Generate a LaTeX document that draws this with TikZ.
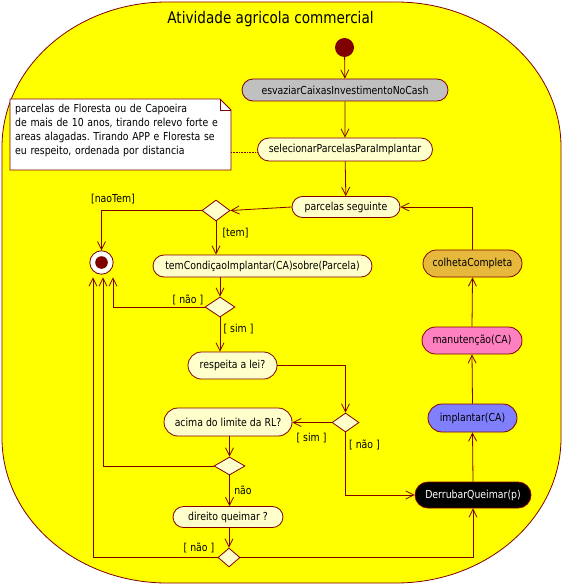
\documentclass[tikz,border=0pt]{standalone}
\usepackage{fontspec}
\setmainfont{DejaVu Sans}[FakeStretch=0.85]
\frenchspacing
\usetikzlibrary{shapes.misc,shapes.geometric,arrows.meta,calc}
\definecolor{dred}{RGB}{128,0,0}
\definecolor{nodey}{RGB}{255,255,204}
\definecolor{goldc}{RGB}{230,184,60}
\definecolor{pinkc}{RGB}{255,128,192}
\definecolor{bluec}{RGB}{128,128,255}
\definecolor{grayc}{RGB}{192,192,192}
\definecolor{areay}{RGB}{255,255,0}
\begin{document}
\begin{tikzpicture}[x=1pt,y=-1pt,
  act/.style={rounded rectangle, draw=dred, fill=nodey, line width=0.8pt, inner sep=0pt,
    font=\fontsize{11}{13}\selectfont},
  dec/.style={diamond, draw=dred, fill=nodey, line width=0.8pt, inner sep=0pt},
  flow/.style={draw=dred, line width=0.8pt, -{Straight Barb[length=8pt,width=8pt]}},
  plain/.style={draw=dred, line width=0.8pt},
  lbl/.style={font=\fontsize{11}{13}\selectfont, inner sep=0pt},
]
\useasboundingbox (0,0) rectangle (563,585);
\fill[white] (0,0) rectangle (563,585);
% activity area
\draw[draw=dred, fill=areay, line width=0.8pt]
  (167,2) -- (396,2) .. controls (487,2) and (561,67) .. (561,147)
  -- (561,438) .. controls (561,518) and (487,583) .. (396,583)
  -- (167,583) .. controls (76,583) and (2,518) .. (2,438)
  -- (2,147) .. controls (2,67) and (76,2) .. (167,2) -- cycle;
\node[font=\fontsize{16}{19}\selectfont, inner sep=0pt] (title) at (270.5,19) {Atividade agricola commercial};

% note
\draw[draw=dred, fill=white, line width=0.8pt]
  (10,99) -- (220,99) -- (231,110) -- (231,170) -- (10,170) -- cycle;
\draw[draw=dred, line width=0.6pt] (220,99) -- (220,110) -- (231,110);
\node[anchor=north west, align=left, inner sep=0pt, text width=215,
  font=\fontsize{11}{14.2}\selectfont] (note) at (15,103.5)
  {parcelas de Floresta ou de Capoeira\\de mais de 10 anos, tirando relevo forte e\\areas alagadas. Tirando APP e Floresta se\\eu respeito, ordenada por distancia};
\coordinate (noteR) at (231,152);

% nodes
\node[circle, fill=dred, minimum size=19, inner sep=0pt] (start) at (344.5,47.5) {};
\node[act, fill=grayc, minimum width=206, minimum height=22] (esv) at (345,90) {esvaziarCaixasInvestimentoNoCash};
\node[act, minimum width=175, minimum height=23] (sel) at (345,149.5) {selecionarParcelasParaImplantar};
\node[act, minimum width=108, minimum height=21] (ps) at (346,207) {parcelas seguinte};
\node[dec, minimum width=28, minimum height=21] (d1) at (216,210.5) {};
\node[circle, draw=dred, fill=white, line width=0.8pt, minimum size=23.4, inner sep=0pt] (fin) at (101.5,262.5) {};
\fill[dred] (fin.center) circle (6.3);
\node[act, minimum width=219, minimum height=22] (tem) at (262.5,266) {temCondiçaoImplantar(CA)sobre(Parcela)};
\node[dec, minimum width=30, minimum height=20] (d2) at (220,307) {};
\node[act, minimum width=89, minimum height=27] (resp) at (232.5,365.5) {respeita a lei?};
\node[dec, minimum width=27, minimum height=19] (d3) at (345.5,422.5) {};
\node[act, minimum width=128, minimum height=28] (acima) at (228,422) {acima do limite da RL?};
\node[dec, minimum width=31, minimum height=18] (d4) at (229.5,466) {};
\node[act, minimum width=110, minimum height=21] (dir) at (228,517) {direito queimar ?};
\node[dec, minimum width=22, minimum height=19] (d5) at (229,557.5) {};
\node[act, fill=black, text=white, minimum width=116, minimum height=26] (der) at (473,495) {DerrubarQueimar(p)};
\node[act, fill=bluec, minimum width=89, minimum height=28] (imp) at (472.5,418) {implantar(CA)};
\node[act, fill=pinkc, minimum width=100, minimum height=27] (man) at (472,340.5) {manutenção(CA)};
\node[act, fill=goldc, minimum width=99, minimum height=27] (col) at (472.5,263.5) {colhetaCompleta};

% connectors
\draw[flow] (start) -- (esv);
\draw[flow] (esv) -- (sel);
\draw[flow] (sel) -- (ps);
\draw[draw=dred, line width=0.6pt, densely dotted] (noteR) -- (noteR -| sel.west);
\draw[flow] (ps.west) -- (d1.east);
\draw[flow] (d1.west) -| (fin.north);
\draw[flow] (d1.south) -- (d1.south |- tem.north);
\draw[flow] (d2.north |- tem.south) -- (d2.north);
\draw[flow] (d2.west) -| ([xshift=11.5pt,yshift=-2.8pt]fin.south);
\draw[flow] (d2.south) -- (d2.south |- resp.north);
\draw[flow] (resp.east) -| (d3.north);
\draw[flow] (d3.west) -- (d3.west -| acima.east);
\draw[flow] (d3.south) |- (der.west);
\draw[flow] (d4.north |- acima.south) -- (d4.north);
\draw[flow] (d4.west) -| ([xshift=1.5pt,yshift=-2.8pt]fin.south);
\draw[flow] (d4.south) -- (d4.south |- dir.north);
\draw[flow] (d5.north |- dir.south) -- (d5.north);
\draw[flow] (d5.west) -| ([xshift=-8.5pt,yshift=-2.8pt]fin.south);
\draw[flow] (d5.east) -| (der.south);
\draw[flow] (der.north) -- (imp.south);
\draw[flow] (imp.north) -- (man.south);
\draw[flow] (man.north) -- (col.south);
\draw[flow] (col.north) |- (ps.east);

% guard labels
\node[lbl] (lnaotem) at (113,199) {[naoTem]};
\node[lbl] (ltem) at (235.5,233) {[tem]};
\node[lbl] (lnao1) at (188,300) {[ não ]};
\node[lbl] (lsim1) at (238.5,329) {[ sim ]};
\node[lbl] (lsim2) at (311.5,438) {[ sim ]};
\node[lbl] (lnao2) at (364.5,445) {[ não ]};
\node[lbl] (lnao3) at (243,490) {não};
\node[lbl] (lnao4) at (199,548) {[ não ]};
\end{tikzpicture}
\end{document}
